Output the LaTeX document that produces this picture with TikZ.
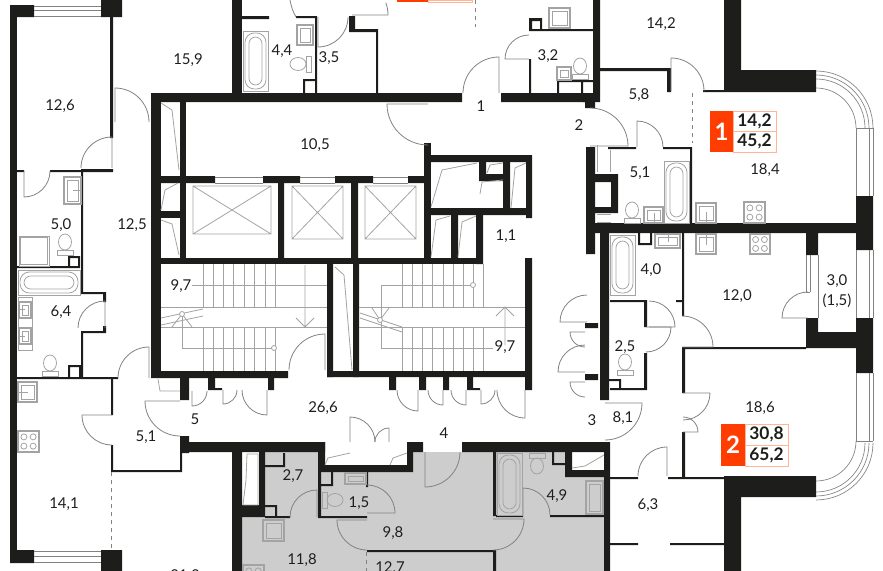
\documentclass[tikz,border=0pt]{standalone}
\usepackage{fontspec}
\setmainfont{Lato}
\definecolor{wallc}{HTML}{1D1D1B}
\definecolor{fixc}{HTML}{A3A3A3}
\definecolor{flatc}{HTML}{CDCDCD}
\definecolor{redc}{HTML}{FF3D00}
\definecolor{edgec}{HTML}{FFB596}
\tikzset{every picture/.style={line width=0.75pt}}
\tikzset{wall/.style={fill=wallc,draw=none},
  fix/.style={draw=fixc,line width=0.6pt},
  door/.style={draw=fixc!80!black,line width=0.6pt},
  glass/.style={draw=fixc!80!black,line width=0.5pt},
  lbl/.style={inner sep=0pt,text=wallc,font=\fontsize{11.2pt}{12pt}\selectfont},
  numlbl/.style={inner sep=0pt,text=wallc,font=\fontsize{13pt}{14pt}\selectfont\bfseries},
  bignum/.style={inner sep=0pt,text=white,font=\fontsize{18pt}{18pt}\selectfont\bfseries},
  edge/.style={draw=edgec,line width=0.6pt}}
% door: hinge x, hinge y, leaf angle, sweep, radius
\newcommand{\door}[5]{\draw [door] (#1,#2) -- ++(#3:#5) arc [start angle=#3,delta angle=#4,radius=#5];}
\newcommand{\tub}[4]{\draw [fix] (#1,#2) rectangle (#3,#4);
  \draw [fix,rounded corners=7pt] ([shift={(2,2)}]#1,#2) rectangle ([shift={(-2,-2)}]#3,#4);
  \draw [fix,rounded corners=5pt] ([shift={(6,6)}]#1,#2) rectangle ([shift={(-6,-6)}]#3,#4);}
\newcommand{\sink}[4]{\draw [fix,line width=1pt] (#1,#2) rectangle (#3,#4);
  \draw [fix] ([shift={(3,3)}]#1,#2) rectangle ([shift={(-3,-3)}]#3,#4);}
\newcommand{\stove}[3]{\draw [fix,line width=1pt] (#1,#2) rectangle ++(#3,#3);
  \draw [fix] (#1,#2) ++(0.28*#3,0.28*#3) circle [radius=3] ++(0.44*#3,0) circle [radius=3] ++(0,0.44*#3) circle [radius=3] ++(-0.44*#3,0) circle [radius=3];}
\newcommand{\toilet}[3]{\begin{scope}[shift={(#1,#2)},rotate=#3]
  \draw [fix] (0,-8) ellipse [x radius=6.5,y radius=8];
  \draw [fix] (-8,0) rectangle (8,5);
  \end{scope}}

\begin{document}
\begin{tikzpicture}[x=0.75pt,y=0.75pt,yscale=-1,xscale=1]
\useasboundingbox (0,0) rectangle (883,571);

%Shape: Grey flat
\fill [flatc] (265,452) -- (604,452) -- (604,571) -- (242,571) -- (242,517) -- (265,517) -- cycle ;
\fill [white] (318,452) rectangle (413,472);
\fill [white] (572,452) rectangle (604,470);

%Shape: Thick walls, left flats
\fill [wall] (10,5) rectangle (34,17) (101,0) rectangle (122,17);
\fill [wall] (10,5) rectangle (17,563);
\fill [wall] (10,550) rectangle (34,563) (101,550) rectangle (122,571);
%Shape: Core
\fill [wall] (151,93) rectangle (462,102) (501,93) rectangle (590,102) (585,102) rectangle (595,108);
\fill [wall] (232,0) rectangle (242,93);
\fill [wall] (151,93) rectangle (161,378);
\fill [wall] (180,102) rectangle (186,258);
\fill [wall] (161,176) rectangle (215,183) (263,176) rectangle (300,183) (335,176) rectangle (373,183) (408,176) rectangle (425,183);
\fill [wall] (278,183) rectangle (284,258) (351,183) rectangle (358,258);
\fill [wall] (424,143) rectangle (431,258);
\fill [wall] (161,258) rectangle (483,264);
\fill [wall] (161,211) rectangle (180,218);
\fill [wall] (431,155) rectangle (532,162) (526,155) rectangle (532,218) (431,208) rectangle (526,215);
\fill [wall] (479,162) rectangle (486,181) (479,174) rectangle (503,181) (503,162) rectangle (510,208);
\fill [wall] (451,215) rectangle (458,258) (476,215) rectangle (483,264);
%Shape: Stair walls
\fill [wall] (151,371) rectangle (288,378) (327,264) rectangle (333,377) (353,264) rectangle (359,377);
\fill [wall] (327,371) rectangle (532,377) (525,258) rectangle (532,390);
\fill [wall] (180,371) rectangle (189,400) (208,377) rectangle (215,390) (208,388) rectangle (222,390) (268,377) rectangle (274,390);
\fill [wall] (389,377) rectangle (396,390) (419,377) rectangle (426,390) (443,377) rectangle (449,390) (467,377) rectangle (473,390) (467,388) rectangle (480,390);
%Shape: Lower corridor wall
\fill [wall] (180,436) rectangle (189,453) (180,442) rectangle (325,452);
\fill [wall] (318,442) rectangle (325,472) (318,465) rectangle (413,472) (407,442) rectangle (413,472) (407,442) rectangle (423,452);
\fill [wall] (462,442) rectangle (610,452) (604,442) rectangle (610,571);
\fill [wall] (565,452) rectangle (572,477) (565,470) rectangle (604,477);
\fill [wall] (232,452) rectangle (242,571) (259,442) rectangle (265,517) (242,505) rectangle (265,517);
%Shape: Right flats
\fill [wall] (593,0) rectangle (600,100) (583,93) rectangle (600,102);
\fill [wall] (724,0) rectangle (741,90) (724,70) rectangle (816,92);
\fill [wall] (586,147) rectangle (595,254) (595,174) rectangle (618,182) (611,174) rectangle (618,213) (595,207) rectangle (618,213);
\fill [wall] (590,223) rectangle (856,233) (856,196) rectangle (873,250) (806,233) rectangle (818,255);
\fill [wall] (600,233) rectangle (609,400) (585,323) rectangle (598,328) (585,374) rectangle (598,380);
\fill [wall] (806,318) rectangle (818,348) (806,332) rectangle (856,348) (856,318) rectangle (873,373);
\fill [wall] (724,476) rectangle (816,497) (724,497) rectangle (741,571);

%Shape: Thin walls
\fill [wall] (110,17) rectangle (113,138) (81,169) rectangle (113,172) (17,170) rectangle (24,172) (50,170) rectangle (81,172);
\fill [wall] (81,172) rectangle (83,293) (81,292) rectangle (105,294) (103,292) rectangle (106,302);
\fill [wall] (81,331) rectangle (106,333) (103,326) rectangle (106,333) (81,333) rectangle (83,377) (17,377) rectangle (118,379);
\fill [wall] (17,266) rectangle (80,268) (68,256) rectangle (70,268) (68,256) rectangle (80,258) (78,256) rectangle (80,268);
\fill [wall] (68,365) rectangle (70,378) (68,365) rectangle (80,367) (79,365) rectangle (81,378);
\fill [wall] (111,379) rectangle (113,415) (111,445) rectangle (113,472) (111,470) rectangle (182,472) (180,453) rectangle (182,472);
\fill [wall] (242,16) rectangle (269,19) (296,16) rectangle (317,18) (315,17) rectangle (317,93) (303,79) rectangle (305,93) (303,79) rectangle (315,81);
\fill [wall] (349,16) rectangle (355,32) (353,29) rectangle (378,32) (376,29) rectangle (378,93);
\fill [wall] (529,59) rectangle (531,93) (529,29) rectangle (593,31) (529,18) rectangle (542,21) (529,18) rectangle (532,31) (540,18) rectangle (542,31);
\fill [wall] (557,80) rectangle (593,82) (557,80) rectangle (559,93) (581,80) rectangle (583,93);
\fill [wall] (600,68) rectangle (667,71) (667,68) rectangle (671,92) (703,90) rectangle (724,92);
\fill [wall] (608,147) rectangle (636,149) (663,147) rectangle (692,149) (690,147) rectangle (692,223);
\fill [wall] (682,233) rectangle (684,302) (676,300) rectangle (684,302) (682,302) rectangle (684,316);
\fill [wall] (638,233) rectangle (640,245) (650,233) rectangle (652,245) (638,243) rectangle (652,245);
\fill [wall] (610,300) rectangle (646,302) (644,300) rectangle (647,327) (644,353) rectangle (647,390) (610,388) rectangle (646,390) (619,379) rectangle (621,390) (609,379) rectangle (621,381);
\fill [wall] (683,347) rectangle (806,349) (682,347) rectangle (685,393) (682,432) rectangle (685,478);
\fill [wall] (610,477) rectangle (638,479) (668,477) rectangle (724,479) (610,543) rectangle (638,545) (670,543) rectangle (724,545);
\fill [wall] (321,484) rectangle (333,486) (331,472) rectangle (333,486) (318,472) rectangle (321,518) (318,516) rectangle (367,518) (366,472) rectangle (368,487);
\fill [wall] (265,516) rectangle (290,518) (265,505) rectangle (277,507) (275,505) rectangle (277,517);
\fill [wall] (265,465) rectangle (285,467) (283,453) rectangle (285,467);
\fill [wall] (493,452) rectangle (496,516) (493,550) rectangle (496,571) (367,550) rectangle (495,552);
\fill [wall] (496,515) rectangle (523,517) (550,515) rectangle (604,517) (552,452) rectangle (554,465) (552,463) rectangle (565,465);

%Shape: Doors
\door{115}{122}{-90}{90}{34}
\door{112}{168}{-90}{-90}{31}
\door{24}{171}{90}{-90}{26}
\door{105}{328}{-90}{-90}{27}
\door{112}{415}{180}{-90}{30}
\door{149}{378}{-90}{-90}{31}
\door{180}{401}{180}{-90}{35}
\door{192}{391}{90}{-90}{15}
\door{223}{390}{90}{-90}{14}
\door{267}{390}{90}{90}{25}
\door{325}{370}{-90}{-90}{36}
\door{418}{390}{90}{90}{21}
\door{443}{390}{90}{90}{15}
\door{466}{390}{90}{90}{15}
\door{481}{390}{90}{-90}{14}
\door{525}{390}{90}{90}{28}
\door{350}{442}{-90}{90}{25}
\door{389}{442}{-90}{-90}{14}
\door{425}{452}{90}{-90}{35}
\door{499}{93}{-90}{-90}{36}
\door{428}{104}{180}{-90}{41}
\door{529}{59}{180}{90}{24}
\door{318}{17}{90}{-90}{30}
\door{671}{91}{-90}{90}{33}
\door{590}{146}{0}{-90}{38}
\door{637}{147}{-90}{90}{26}
\door{367}{520}{180}{-90}{30}
\door{367}{513}{0}{-90}{28}
\door{317}{517}{-90}{-90}{27}
\door{493}{519}{0}{90}{31}
\door{523}{515}{-90}{90}{27}
\door{649}{327}{0}{-90}{26}
\door{646}{327}{0}{90}{25}
\door{682}{347}{0}{-90}{31}
\door{683}{393}{0}{90}{27}
\door{683}{432}{0}{-90}{15}
\door{605}{403}{0}{90}{37}
\door{667}{476}{-90}{-90}{29}
\door{587}{322}{180}{90}{27}
\door{585}{332}{180}{-90}{15}
\door{585}{372}{180}{90}{27}
\door{585}{382}{180}{-90}{15}
\door{808}{318}{180}{90}{26}
\door{352}{15}{0}{-20}{36}
\draw [door] (296,17) .. controls (293,12) and (291,6) .. (290,0);

%Shape: Windows
\draw [glass] (34,6) -- (101,6) (34,10) -- (101,10) (34,16) -- (101,16);
\draw [glass] (34,551) -- (101,551) (34,556) -- (101,556) (34,562) -- (101,562);
\draw [glass] (215,177) -- (263,177) (215,183) -- (263,183) (300,177) -- (335,177) (300,183) -- (335,183) (373,177) -- (408,177) (373,183) -- (408,183);
\draw [glass] (816,71) arc [start angle=-90,delta angle=90,radius=57];
\draw [glass] (816,75) arc [start angle=-90,delta angle=90,radius=53];
\draw [glass] (816,79) arc [start angle=-90,delta angle=90,radius=49];
\draw [glass] (816,88) arc [start angle=-90,delta angle=90,radius=40];
\draw [glass] (816,500) arc [start angle=90,delta angle=-90,radius=57];
\draw [glass] (816,496) arc [start angle=90,delta angle=-90,radius=53];
\draw [glass] (816,492) arc [start angle=90,delta angle=-90,radius=49];
\draw [glass] (816,481) arc [start angle=90,delta angle=-90,radius=40];
\draw [glass] (856,128) -- (856,196) (869,128) -- (869,196) (873,128) -- (873,196) (856,128) -- (873,128);
\draw [glass] (856,250) -- (856,318) (869,250) -- (869,318) (873,250) -- (873,318);
\draw [glass] (856,373) -- (856,441) (869,373) -- (869,441) (873,373) -- (873,441) (856,441) -- (873,441);
\draw [glass] (806,255) -- (806,292) (810,255) -- (810,292) (818,255) -- (818,318) (806,292) -- (810,292);
\draw [glass,dashed] (111.5,472) -- (111.5,550);
\draw [glass,dashed] (692.5,93) -- (692.5,143);
\draw [glass,dashed] (475,0) -- (475,27);
\draw [glass,dashed] (366,552) -- (366,571);

%Shape: Lifts
\draw [fix] (193,186) rectangle (271,234) (193,186) -- (271,234) (193,234) -- (271,186);
\draw [fix] (292,186) rectangle (343,239) (292,186) -- (343,239) (292,239) -- (343,186);
\draw [fix] (365,186) rectangle (416,239) (365,186) -- (416,239) (365,239) -- (416,186);

%Shape: Shaft hatches
\draw [fix] (161,103) -- (172,110) -- (179,170);
\draw [fix] (161,210) -- (165,190) -- (178,183);
\draw [fix] (161,220) -- (172,224) -- (179,255);
\draw [fix] (431,207) -- (442,170) -- (477,163);
\draw [fix] (480,194) -- (482,182) -- (503,180);
\draw [fix] (487,173) -- (490,165) -- (503,163);
\draw [fix] (511,208) -- (515,168) -- (526,163);
\draw [fix] (431,257) -- (436,220) -- (450,216);
\draw [fix] (458,257) -- (462,222) -- (476,216);
\draw [fix] (335,267) -- (344,275) -- (352,370);
\draw [fix] (158,379) -- (160,391) -- (180,391);
\draw [fix] (247,454) -- (246,480) -- (243,505) -- (258,505) -- (258,454) -- cycle;
\draw [fix] (325,465) -- (328,458) -- (350,453);
\draw [fix] (390,465) -- (393,458) -- (407,453);
\draw [fix] (572,468) -- (585,466) -- (604,455);
\draw [fix] (597,145) -- (597,172) (610,150) -- (610,172);
\draw [fix] (597,214) -- (611,214) (597,222) -- (611,222);

%Shape: Left stair
\foreach \tx in {203,213,223,233,244,254,265,275} {
  \draw [fix] (\tx,264) -- (\tx,308) (\tx,327) -- (\tx,371);
}
\draw [fix] (161,307) -- (327,307) (161,327) -- (327,327);
\draw [fix] (192,285) -- (327,285);
\draw [fix] (182,314) -- (182,348) -- (274,348);
\draw [fix] (161,318) -- (203,309) (161,325) -- (203,316);
\draw [fix] (172,327) -- (182,314) -- (192,327);
\draw [fix] (305,265) -- (305,327) (296,318) -- (305,327) -- (314,318);
\draw [fix,fill=white] (182,314) circle [radius=2.5] (274,348) circle [radius=2.5];
%Shape: Right stair
\foreach \tx in {402,412,422,432,443,453,463,473,483} {
  \draw [fix] (\tx,264) -- (\tx,308) (\tx,327) -- (\tx,371);
}
\draw [fix] (359,307) -- (525,307) (359,327) -- (525,327);
\draw [fix] (381,285) -- (473,285) (381,285) -- (381,348) -- (493,348);
\draw [fix] (360,313) -- (402,327) (360,318) -- (402,332);
\draw [fix] (372,308) -- (380,320) -- (389,308);
\draw [fix] (505,307) -- (505,345) (496,316) -- (505,307) -- (514,316);
\draw [fix,fill=white] (380,320) circle [radius=2.5] (473,285) circle [radius=2.5];

%Shape: Fixtures
\tub{243}{31}{268}{91}
\tub{18}{270}{80}{295}
\tub{664}{161}{689}{223}
\tub{610}{235}{635}{295}
\tub{497}{453}{522}{515}
\draw [fix] (19,236) rectangle (49,266) (20,237) rectangle (47,264);
\sink{64}{177}{81}{204}
\draw [fix] (18,297) rectangle (32,350);
\sink{19}{302}{31}{318}
\sink{19}{328}{31}{344}
\sink{297}{25}{313}{45}
\sink{549}{8}{570}{28}
\sink{557}{67}{571}{80}
\sink{18}{382}{37}{402}
\sink{696}{203}{716}{223}
\sink{696}{234}{716}{254}
\sink{644}{207}{663}{223}
\sink{655}{234}{680}{248}
\sink{345}{473}{366}{484}
\sink{263}{520}{284}{541}
\sink{586}{481}{603}{514}
\draw [fix] (73,190) -- (80,190) (18,309) -- (25,309) (18,336) -- (25,336) (18,392) -- (28,392);
\draw [fix] (706,212) -- (706,223) (706,234) -- (706,245) (654,213) -- (654,223) (668,234) -- (668,242);
\stove{18}{431}{21}
\stove{744}{202}{21}
\stove{750}{234}{20}
\stove{243}{565}{21}
\toilet{65}{250}{0}
\toilet{50}{371}{0}
\toilet{632}{218}{0}
\toilet{625}{370}{0}
\toilet{580}{74}{0}
\toilet{306}{64}{-90}
\toilet{327}{500}{90}
\toilet{537}{458}{180}

%Shape: Legend 1
\fill [redc] (710,111) rectangle (733,152);
\draw [edge] (733,111) rectangle (776,131) (733,131) rectangle (776,152);
%Shape: Legend 2
\fill [redc] (721,424) rectangle (745,466);
\draw [edge] (745,424) rectangle (788,445) (745,445) rectangle (788,466);
%Shape: Top legend stub
\fill [redc] (397,0) rectangle (428,2);
\draw [edge] (428,0) rectangle (472,2);

% Text Node
\node [bignum] (flat1) at (721.5,131.5) {1};
\node [numlbl] (flat1a) at (754.5,121) {14,2};
\node [numlbl] (flat1b) at (754.5,141.5) {45,2};
\node [bignum] (flat2) at (733,445) {2};
\node [numlbl] (flat2a) at (766.5,434.5) {30,8};
\node [numlbl] (flat2b) at (766.5,455.5) {65,2};
% Text Node
\node [lbl] (r1) at (60,106) {12,6};
\node [lbl] (r2) at (188,60) {15,9};
\node [lbl] (r3) at (282,51) {4,4};
\node [lbl] (r4) at (329,58) {3,5};
\node [lbl] (r5) at (661,24) {14,2};
\node [lbl] (r6) at (548,56) {3,2};
\node [lbl] (r7) at (481,106) {1};
\node [lbl] (r8) at (579,125) {2};
\node [lbl] (r9) at (639,95) {5,8};
\node [lbl] (r10) at (315,145) {10,5};
\node [lbl] (r11) at (640,173) {5,1};
\node [lbl] (r12) at (765,170) {18,4};
\node [lbl] (r13) at (132,225) {12,5};
\node [lbl] (r14) at (61,225) {5,0};
\node [lbl] (r15) at (506,236) {1,1};
\node [lbl] (r16) at (651,270) {4,0};
\node [lbl] (r17) at (737,296) {12,0};
\node [lbl] (r18) at (837,281) {3,0};
\node [lbl] (r19) at (837,301) {(1,5)};
\node [lbl] (r20) at (181,286) {9,7};
\node [lbl] (r21) at (61,312) {6,4};
\node [lbl] (r22) at (505,347) {9,7};
\node [lbl] (r23) at (625,347) {2,5};
\node [lbl] (r24) at (760,408) {18,6};
\node [lbl] (r25) at (195,419) {5};
\node [lbl] (r26) at (146,437) {5,1};
\node [lbl] (r27) at (323,408) {26,6};
\node [lbl] (r28) at (592,420) {3};
\node [lbl] (r29) at (623,418) {8,1};
\node [lbl] (r30) at (444,433) {4};
\node [lbl] (r31) at (293,476) {2,7};
\node [lbl] (r32) at (359,503) {1,5};
\node [lbl] (r33) at (557,496) {4,9};
\node [lbl] (r34) at (393,533) {9,8};
\node [lbl] (r35) at (648,505) {6,3};
\node [lbl] (r36) at (64,504) {14,1};
\node [lbl] (r37) at (302,560) {11,8};
\node [lbl] (r38) at (390,568) {12,7};
\node [lbl] (r39) at (185,576) {21,3};

\end{tikzpicture}
\end{document}
